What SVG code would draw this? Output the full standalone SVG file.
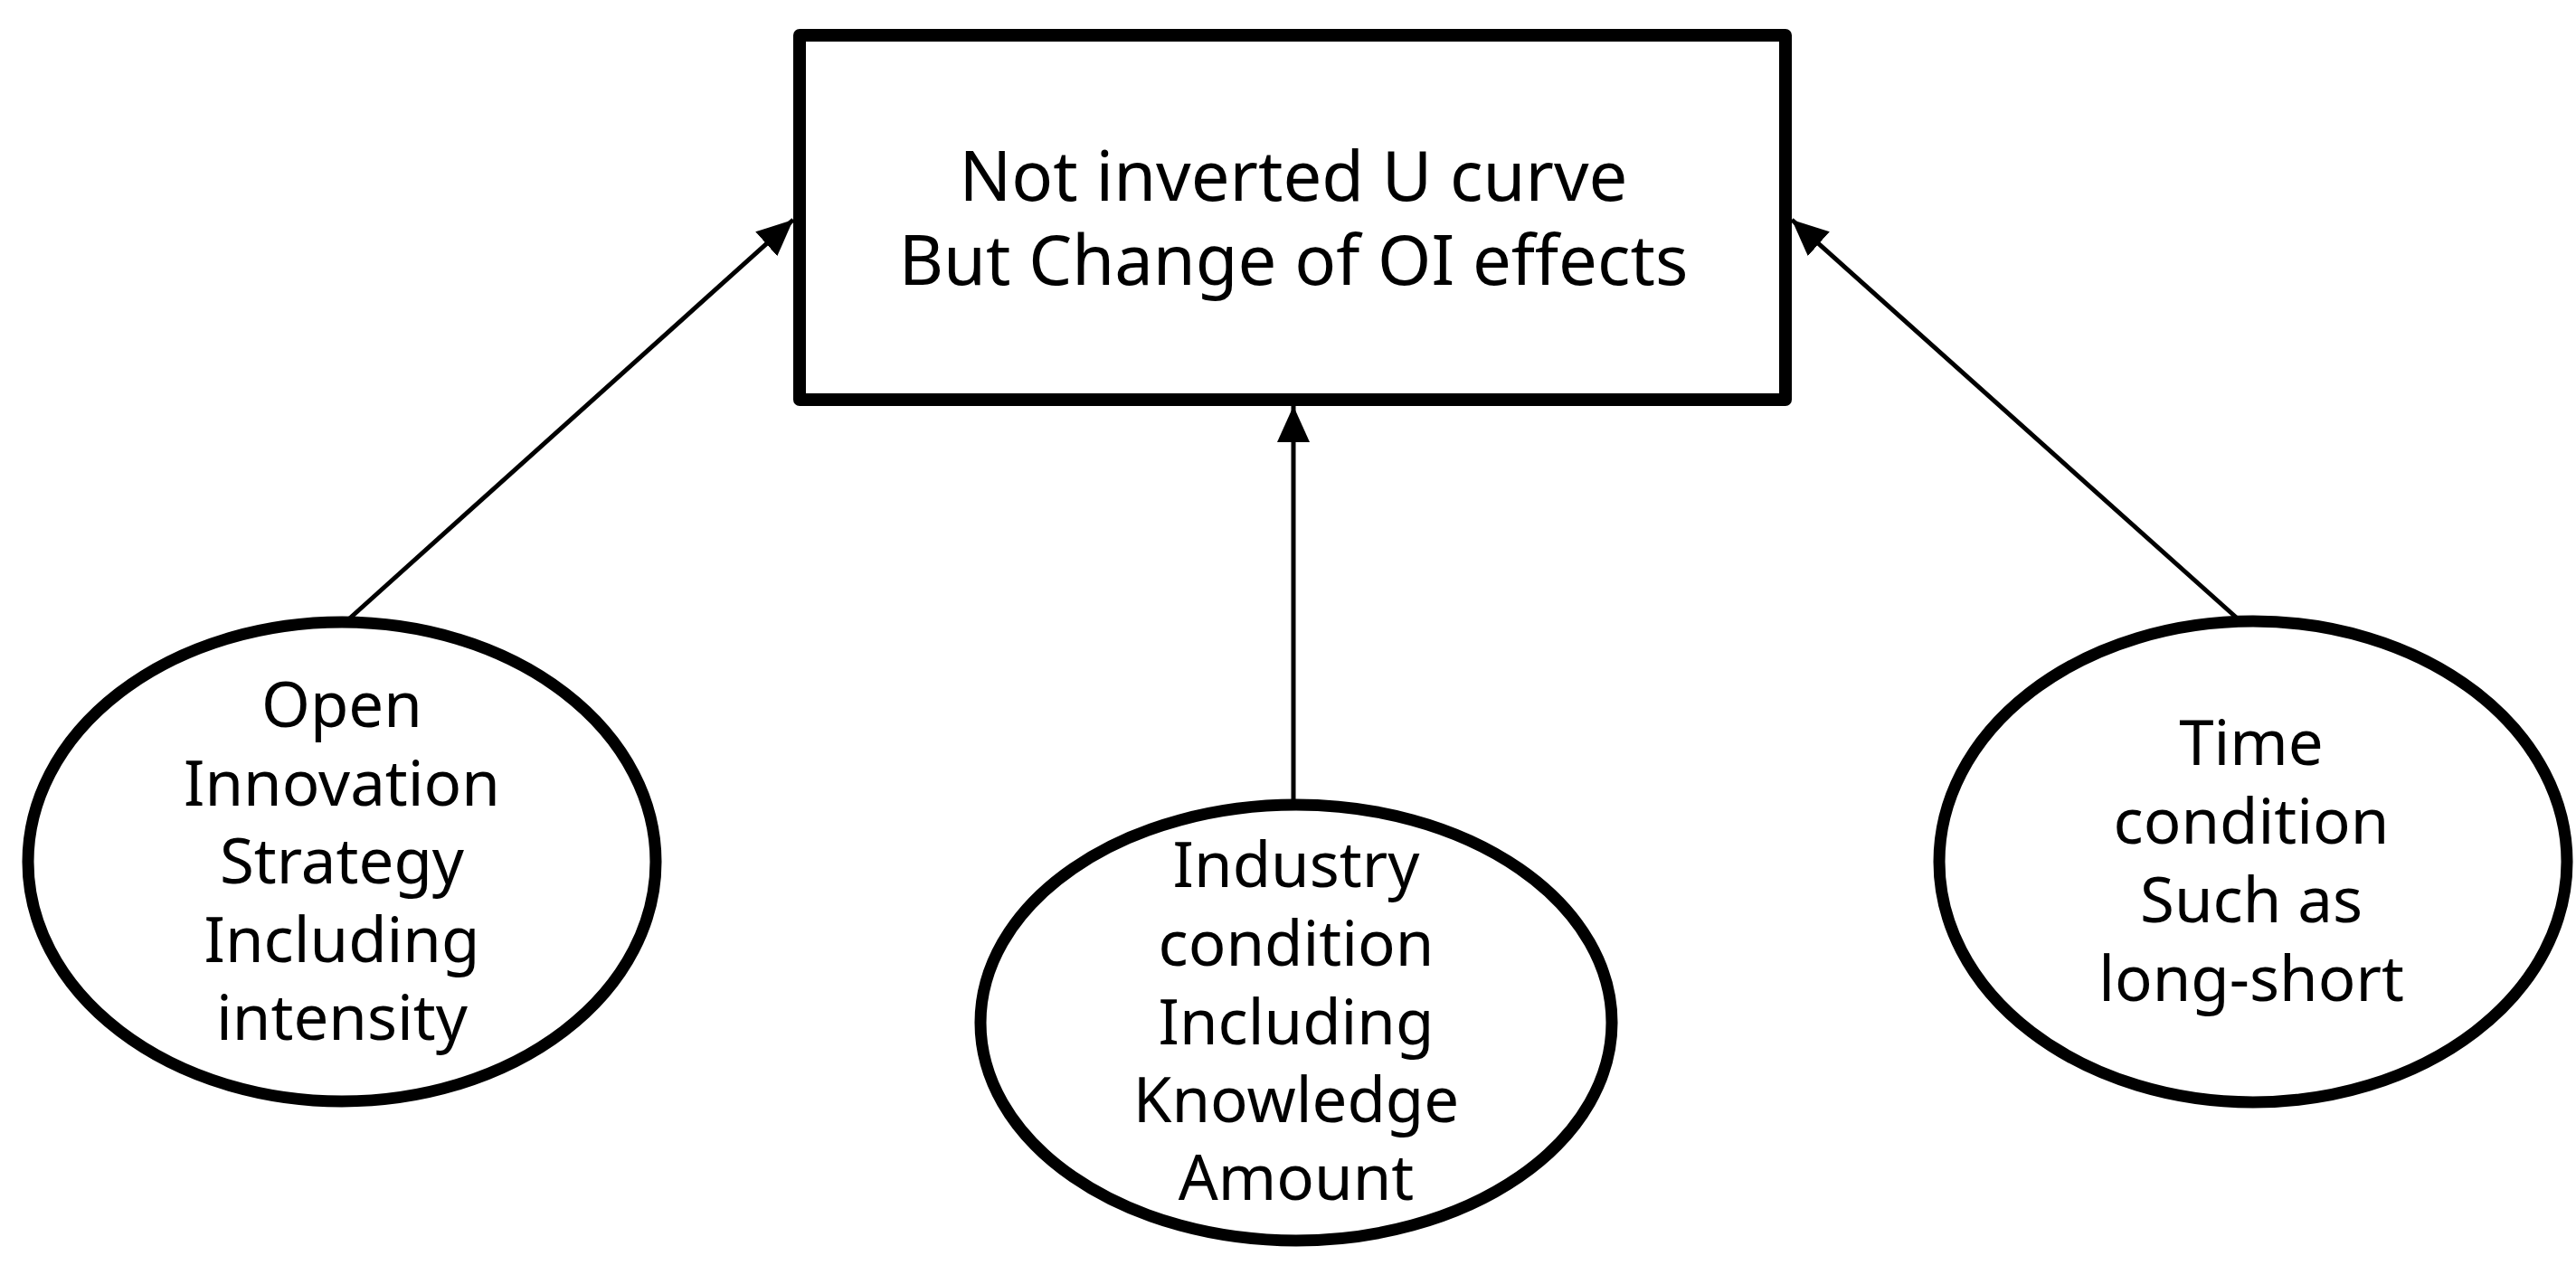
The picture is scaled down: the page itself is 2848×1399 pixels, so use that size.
<svg xmlns="http://www.w3.org/2000/svg" width="2848" height="1399" viewBox="0 0 2848 1399">
<style>
  .shape { fill: #ffffff; stroke: #000000; stroke-width: 13; stroke-linejoin: round; }
  .rect { stroke-width: 14; }
  .edge { stroke: #000000; stroke-width: 5; fill: none; }
  .lbl { font-family: "Noto Sans", "Open Sans", "DejaVu Sans", sans-serif; fill: #000000; text-anchor: middle; }
  .big { font-size: 76px; }
  .small { font-size: 69px; }
</style>
<defs>
  <marker id="arrow" markerUnits="userSpaceOnUse" markerWidth="44" markerHeight="40" refX="40" refY="18" orient="auto">
    <path d="M0,0 L40,18 L0,36 Z" fill="#000000"/>
  </marker>
</defs>
<rect x="0" y="0" width="2848" height="1399" fill="#ffffff"/>
<g id="connectors">
  <line class="edge" x1="382" y1="688" x2="877" y2="243" marker-end="url(#arrow)"/>
  <line class="edge" x1="1430" y1="890" x2="1430" y2="449" marker-end="url(#arrow)"/>
  <line class="edge" x1="2477" y1="687" x2="1981" y2="243" marker-end="url(#arrow)"/>
</g>
<g id="node-main">
  <rect class="shape rect" x="884" y="39" width="1090" height="403"/>
  <text class="lbl big" x="1430" y="222">Not inverted U curve</text>
  <text class="lbl big" x="1430" y="315">But Change of OI effects</text>
</g>
<g id="node-strategy">
  <ellipse class="shape" cx="378" cy="953" rx="347" ry="265"/>
  <text class="lbl small" x="378" y="804">Open</text>
  <text class="lbl small" x="378" y="891">Innovation</text>
  <text class="lbl small" x="378" y="977">Strategy</text>
  <text class="lbl small" x="378" y="1064">Including</text>
  <text class="lbl small" x="378" y="1150">intensity</text>
</g>
<g id="node-industry">
  <ellipse class="shape" cx="1433" cy="1131" rx="349" ry="241"/>
  <text class="lbl small" x="1433" y="981">Industry</text>
  <text class="lbl small" x="1433" y="1068">condition</text>
  <text class="lbl small" x="1433" y="1155">Including</text>
  <text class="lbl small" x="1433" y="1241">Knowledge</text>
  <text class="lbl small" x="1433" y="1327">Amount</text>
</g>
<g id="node-time">
  <ellipse class="shape" cx="2491" cy="953" rx="347" ry="266"/>
  <text class="lbl small" x="2489" y="846">Time</text>
  <text class="lbl small" x="2489" y="933">condition</text>
  <text class="lbl small" x="2489" y="1020">Such as</text>
  <text class="lbl small" x="2489" y="1107">long-short</text>
</g>
</svg>
